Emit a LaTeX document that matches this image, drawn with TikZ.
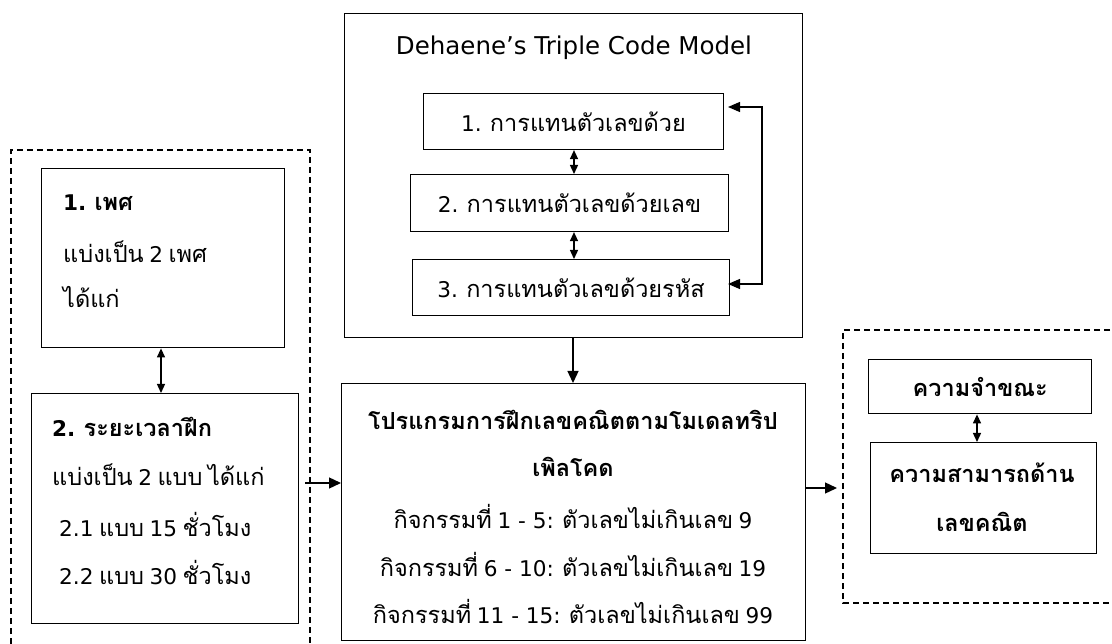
\documentclass[tikz,border=0pt]{standalone}
\usepackage{fontspec}
\setmainfont[Script=Thai,WordSpace=0.7]{Loma}
\newfontfamily\latfont[Scale=0.92]{DejaVu Sans}
\newfontfamily\titlefont{DejaVu Sans}
\newcommand\ltn[1]{{\latfont #1}}
\usetikzlibrary{arrows.meta}
\tikzset{
  box/.style={draw, line width=1.4pt, inner sep=0pt, anchor=north west},
  inbox/.style={draw, line width=1.1pt, inner sep=0pt, anchor=north west},
  dbox/.style={draw, line width=1.2pt, dash pattern=on 6pt off 4pt},
  txt/.style={inner sep=0pt, font=\fontsize{23.5}{28}\selectfont},
  btxt/.style={inner sep=0pt, font=\fontsize{23.5}{28}\selectfont\bfseries},
  arr/.style={line width=1.3pt, -{Triangle[length=12pt,width=11pt]}},
  darr/.style={line width=1.3pt, {Triangle[length=9pt,width=8pt]}-{Triangle[length=9pt,width=8pt]}},
}
\begin{document}
\begin{tikzpicture}[x=1pt,y=-1pt]
\useasboundingbox (0,0) rectangle (1112,644);
% dashed groups
\draw[dbox] (11,644) -- (11,150) -- (310,150) -- (310,644);
\begin{scope}
\clip (0,0) rectangle (1112,644);
\draw[dbox] (1140,330) -- (843,330) -- (843,603) -- (1140,603);
\end{scope}
% left boxes
\node[box, minimum width=243pt, minimum height=179pt] (sex) at (41,168) {};
\node[box, minimum width=267pt, minimum height=230pt] (time) at (31,393) {};
\node[btxt, anchor=west] (sex1) at (63,203) {\ltn{1.} เพศ};
\node[txt, anchor=west] (sex2) at (63,252) {แบ่งเป็น \ltn{2} เพศ};
\node[txt, anchor=west] (sex3) at (63,297) {ได้แก่};
\node[btxt, anchor=west] (time1) at (52,427) {\ltn{2.} ระยะเวลาฝึก};
\node[txt, anchor=west] (time2) at (52,475) {แบ่งเป็น \ltn{2} แบบ ได้แก่};
\node[txt, anchor=west] (time3) at (59,525) {\ltn{2.1} แบบ \ltn{15} ชั่วโมง};
\node[txt, anchor=west] (time4) at (59,573) {\ltn{2.2} แบบ \ltn{30} ชั่วโมง};
% top model box
\node[box, minimum width=458pt, minimum height=324pt] (model) at (344,13) {};
\node[inner sep=0pt, font=\titlefont\fontsize{24.5}{29}\selectfont] (title) at (574,48) {Dehaene’s Triple Code Model};
\node[inbox, minimum width=300pt, minimum height=56pt] (c1) at (423,93) {};
\node[inbox, minimum width=318pt, minimum height=57pt] (c2) at (410,174) {};
\node[inbox, minimum width=317pt, minimum height=56pt] (c3) at (412,259) {};
\node[txt] (c1t) at (c1.center) {\ltn{1.} การแทนตัวเลขด้วย};
\node[txt] (c2t) at (c2.center) {\ltn{2.} การแทนตัวเลขด้วยเลข};
\node[txt] (c3t) at (c3.center) {\ltn{3.} การแทนตัวเลขด้วยรหัส};
\coordinate (fbtop) at (728,107);
\coordinate (fbbot) at (728,284);
\draw[line width=1.3pt, {Triangle[length=12pt,width=10pt]}-{Triangle[length=12pt,width=10pt]}] (fbbot) -- (762,284) -- (762,107) -- (fbtop);
\draw[darr] (c1.south -| 574,0) -- (c2.north -| 574,0);
\draw[darr] (c2.south -| 574,0) -- (c3.north -| 574,0);
% program box
\node[box, minimum width=464pt, minimum height=257pt] (prog) at (341,383) {};
\node[btxt] (p1) at (573,420) {โปรแกรมการฝึกเลขคณิตตามโมเดลทริป};
\node[btxt] (p2) at (573,467) {เพิลโคด};
\node[txt] (p3) at (573,517) {กิจกรรมที่ \ltn{1 - 5:} ตัวเลขไม่เกินเลข \ltn{9}};
\node[txt] (p4) at (573,565) {กิจกรรมที่ \ltn{6 - 10:} ตัวเลขไม่เกินเลข \ltn{19}};
\node[txt] (p5) at (573,612) {กิจกรรมที่ \ltn{11 - 15:} ตัวเลขไม่เกินเลข \ltn{99}};
% right boxes
\node[box, minimum width=223pt, minimum height=54pt] (wm) at (868,359) {};
\node[box, minimum width=226pt, minimum height=111pt] (abil) at (870,442) {};
\node[btxt] (wmt) at (wm.center) {ความจำขณะ};
\node[btxt] (ab1) at (982,473) {ความสามารถด้าน};
\node[btxt] (ab2) at (982,522) {เลขคณิต};
\draw[darr] (wm.south -| 977,0) -- (abil.north -| 977,0);
% connectors
\draw[darr] (sex.south -| 161,0) -- (time.north -| 161,0);
\coordinate (lgout) at (305,483);
\draw[arr] (lgout) -- (prog.west |- lgout);
\draw[arr] (model.south -| 573,0) -- (prog.north -| 573,0);
\coordinate (rgin) at (837,488);
\draw[arr] (prog.east |- rgin) -- (rgin);
\end{tikzpicture}
\end{document}
